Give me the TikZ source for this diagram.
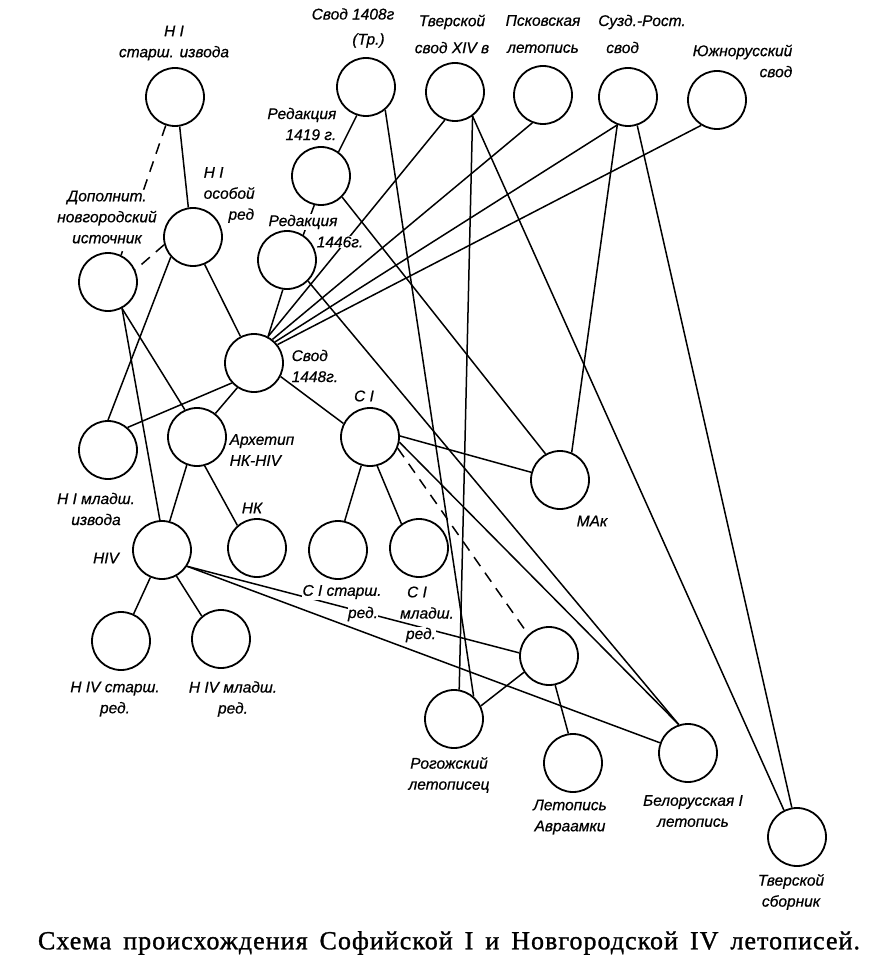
\documentclass[tikz,border=0pt]{standalone}
\usepackage{fontspec}
\newfontfamily\lblfont[FakeBold=0.6]{Liberation Sans}
\newfontfamily\capfont[LetterSpace=4,FakeBold=1.2]{Liberation Serif}
\tikzset{
  src/.style={circle,draw,line width=1.8pt,minimum size=58pt,inner sep=0pt},
  lbl/.style={font=\lblfont\itshape\fontsize{15.5}{21}\selectfont,inner sep=0.5pt,align=center},
  cut/.style={fill=white},
  conn/.style={line width=1.5pt},
  hypo/.style={line width=1.5pt,dash pattern=on 11pt off 8pt},
}

\begin{document}
\begin{tikzpicture}[x=1pt,y=-1pt]
        \useasboundingbox (0,0) rectangle (874,976) ;
        % lost and extant sources
        \node[src] (hist) at (175,97) {} ;
        \node[src] (svodA) at (366,87) {} ;
        \node[src] (tverA) at (455,92) {} ;
        \node[src] (pskov) at (543,95) {} ;
        \node[src] (suzd) at (628,97) {} ;
        \node[src] (south) at (717,100) {} ;
        \node[src] (redA) at (321,176) {} ;
        \node[src] (hiosob) at (193,237) {} ;
        \node[src] (redB) at (287,260) {} ;
        \node[src] (dopoln) at (108,282) {} ;
        \node[src] (svodB) at (254,363) {} ;
        \node[src] (himlad) at (108,450) {} ;
        \node[src] (arch) at (197,437) {} ;
        \node[src] (ci) at (370,437) {} ;
        \node[src] (mak) at (560,480) {} ;
        \node[src] (hiv) at (162,550) {} ;
        \node[src] (nk) at (257,548) {} ;
        \node[src] (cist) at (338,550) {} ;
        \node[src] (cimlad) at (419,548) {} ;
        \node[src] (hivst) at (121,641) {} ;
        \node[src] (hivml) at (221,639) {} ;
        \node[src] (cx) at (549,656) {} ;
        \node[src] (rogozh) at (454,719) {} ;
        \node[src] (avr) at (573,763) {} ;
        \node[src] (belor) at (688,753) {} ;
        \node[src] (tversb) at (797,837) {} ;
        % connections
        \draw[hypo] (hist.252) -- (dopoln.64) ;
        \draw[conn] (hist.279) -- (hiosob.99) ;
        \draw[hypo] (hiosob.195) -- (dopoln.24) ;
        \draw[conn] (hiosob.293) -- (svodB.117) ;
        \draw[conn] (hiosob.222) -- (himlad.90) ;
        \draw[conn] (dopoln.298) -- (arch.114) ;
        \draw[conn] (dopoln.298) -- (hiv.94) ;
        \draw[conn] (svodA.252) -- (redA.54) ;
        \draw[conn] (svodA.310) -- (rogozh.49) ;
        \draw[conn] (redA.257) -- (redB.57) ;
        \draw[conn] (redA.315) -- (mak.119) ;
        \draw[conn] (redB.262) -- (svodB.62) ;
        \draw[conn] (redB.315) -- (belor.108) ;
        \draw[conn] (tverA.250) -- (svodB.62) ;
        \draw[conn] (pskov.249) -- (svodB.52) ;
        \draw[conn] (suzd.249) -- (svodB.45) ;
        \draw[conn] (south.238) -- (svodB.38) ;
        \draw[conn] (tverA.306) -- (rogozh.80) ;
        \draw[conn] (tverA.306) -- (tversb.116) ;
        \draw[conn] (suzd.249) -- (mak.67) ;
        \draw[conn] (suzd.288) -- (tversb.100) ;
        \draw[conn] (svodB.222) -- (himlad.49) ;
        \draw[conn] (svodB.236) -- (arch.52) ;
        \draw[conn] (svodB.333) -- (ci.153) ;
        \draw[conn] (arch.250) -- (hiv.75) ;
        \draw[conn] (arch.285) -- (nk.131) ;
        \draw[conn] (ci.253) -- (cist.77) ;
        \draw[conn] (ci.284) -- (cimlad.126) ;
        \draw[conn] (ci.2) -- (mak.165) ;
        \draw[conn] (ci.-10) -- (belor.108) ;
        \draw[hypo] (ci.-22) -- (cx.134) ;
        \draw[conn] (hiv.247) -- (hivst.65) ;
        \draw[conn] (hiv.299) -- (hivml.130) ;
        \draw[conn] (hiv.-33) -- (cx.174) ;
        \draw[conn] (hiv.-33) -- (belor.160) ;
        \draw[conn] (cx.213) -- (rogozh.26) ;
        \draw[conn] (cx.282) -- (avr.99) ;
        % labels
        \node[lbl] (hist-l) at (174,43) {Н I\\старш. извода} ;
        \node[lbl] (svodA-l) at (353,28) {Свод 1408г\\[4pt]\hspace*{2em}(Тр.)} ;
        \node[lbl] (tverA-l) at (452,34) {Тверской\\[6pt]свод XIV в} ;
        \node[lbl] (pskov-l) at (543,34) {Псковская\\[6pt]летопись} ;
        \node[lbl] (suzd-l) at (642,34) {Сузд.-Рост.\\[6pt]свод\hspace*{2.5em}} ;
        \node[lbl,align=right,anchor=east] (south-l) at (793,61) {Южнорусский\\свод} ;
        \node[lbl,align=right,anchor=east] (redA-l) at (337,124) {Редакция\\1419 г.} ;
        \node[lbl,cut] (redB-l1) at (303,222) {Редакция} ;
        \node[lbl,cut] (redB-l2) at (340,242) {1446г.} ;
        \node[lbl,align=left,anchor=west] (hiosob-l) at (203,195) {Н I\\особой\\\hspace*{1.6em}ред} ;
        \node[lbl,cut] (dopoln-l) at (107,217) {Дополнит.\\новгородский\\источник} ;
        \node[lbl,align=left,anchor=west] (svodB-l) at (291,366) {Свод\\1448г.} ;
        \node[lbl] (ci-l) at (364,396) {С I} ;
        \node[lbl] (himlad-l) at (96,509) {Н I младш.\\извода} ;
        \node[lbl,align=left,anchor=west] (arch-l) at (229,450) {Архетип\\НК-НIV} ;
        \node[lbl] (nk-l) at (252,508) {НК} ;
        \node[lbl] (hiv-l) at (106,558) {НIV} ;
        \node[lbl,cut] (cist-l1) at (342,592) {С I старш.} ;
        \node[lbl,cut] (cist-l2) at (363,614) {ред.} ;
        \node[lbl,cut] (cimlad-l1) at (417,592) {С I} ;
        \node[lbl,cut] (cimlad-l2) at (427,613) {младш.} ;
        \node[lbl,cut] (cimlad-l3) at (421,635) {ред.} ;
        \node[lbl] (mak-l) at (592,521) {МАк} ;
        \node[lbl] (hivst-l) at (115,699) {Н IV старш.\\ред.} ;
        \node[lbl] (hivml-l) at (233,699) {Н IV младш.\\ред.} ;
        \node[lbl] (rogozh-l) at (449,775) {Рогожский\\летописец} ;
        \node[lbl] (avr-l) at (570,817) {Летопись\\Авраамки} ;
        \node[lbl] (belor-l) at (693,811) {Белорусская I\\летопись} ;
        \node[lbl] (tversb-l) at (791,892) {Тверской\\сборник} ;
        % caption
        \node[font=\capfont\fontsize{26}{30}\selectfont,inner sep=0pt] (caption) at (449,943)
          {\makebox[822pt][s]{Схема происхождения Софийской I и Новгородской IV летописей.}} ;
      \end{tikzpicture}
\end{document}
